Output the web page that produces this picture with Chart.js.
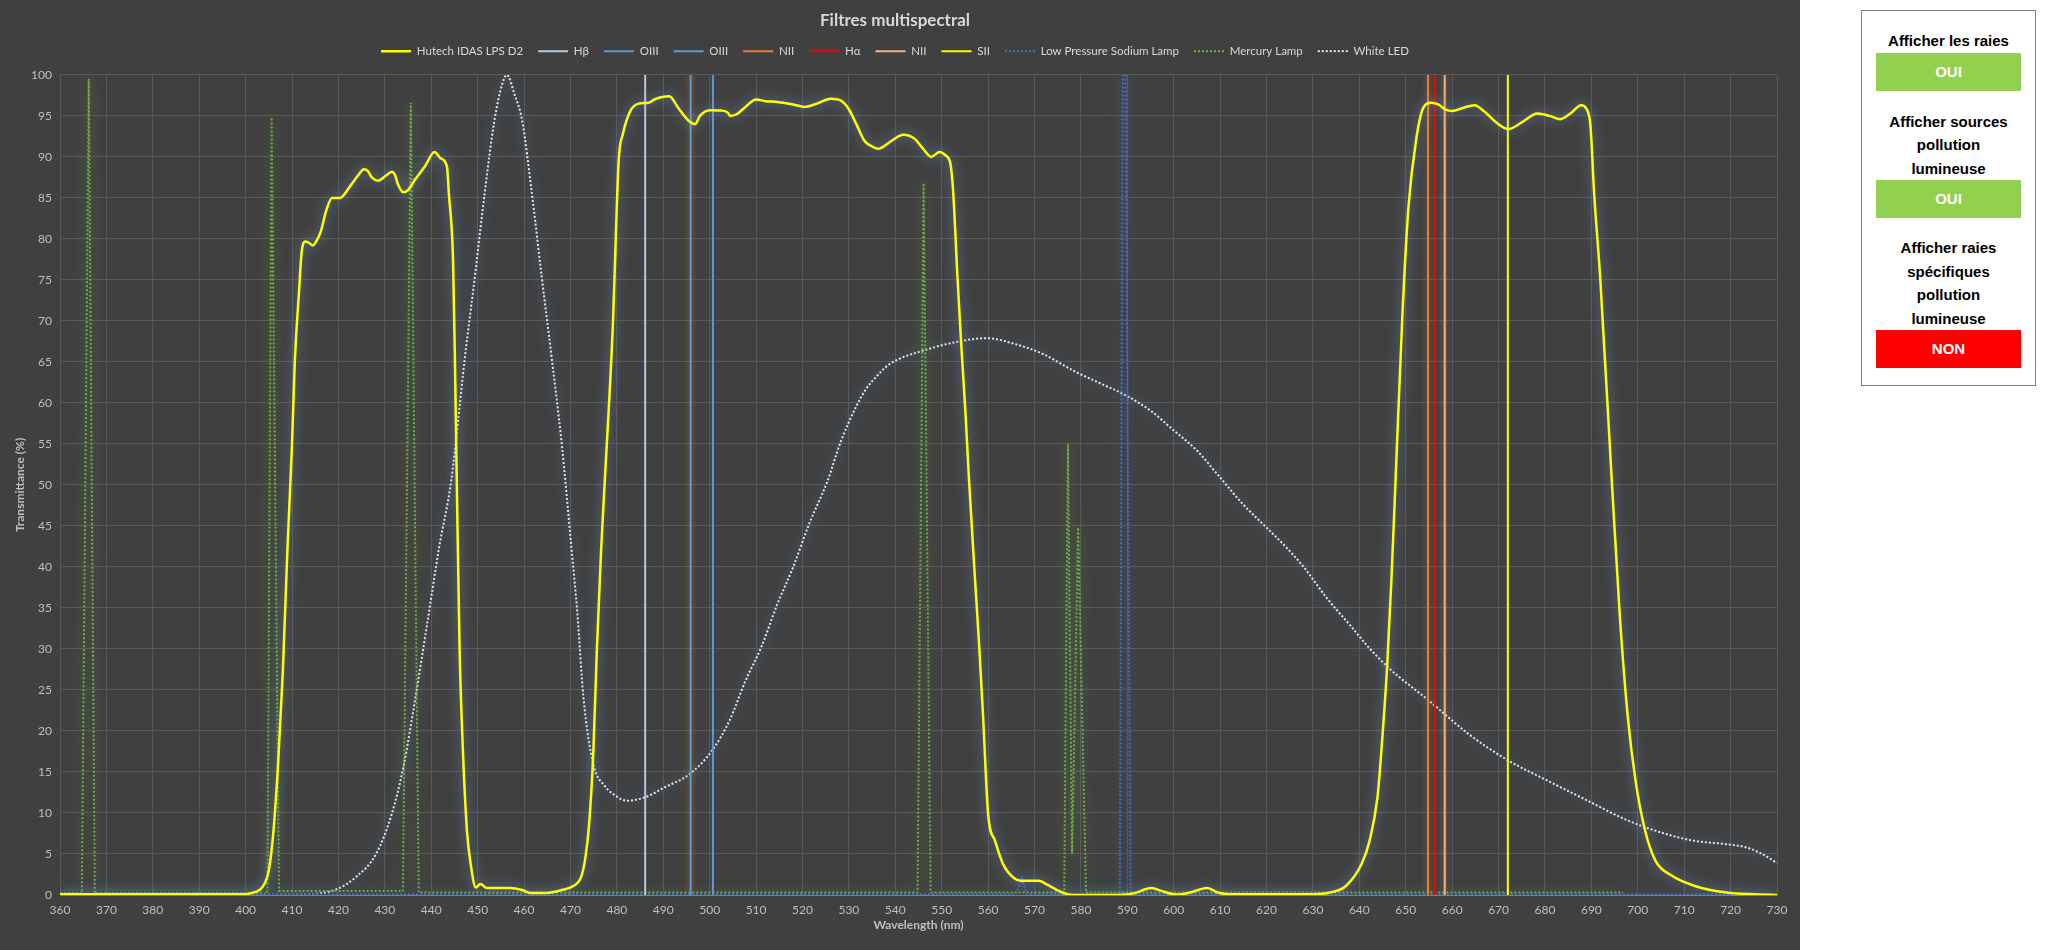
<!DOCTYPE html>
<html lang="fr">
<head>
<meta charset="utf-8">
<title>Filtres multispectral</title>
<script src="https://cdn.jsdelivr.net/npm/chart.js@4.4.1/dist/chart.umd.min.js"></script>
<style>
  html, body { margin: 0; padding: 0; background: #ffffff; }
  #zone { position: absolute; left: 0; top: 0; width: 1800px; height: 950px; background: #404040; }
  #panneau {
    position: absolute; left: 1861px; top: 10px; width: 175px; height: 376px;
    border: 1px solid #7f7f7f; box-sizing: border-box;
    font-family: "Liberation Sans", Arial, sans-serif; font-weight: bold; font-size: 15px;
    color: #000; text-align: center;
  }
  .lib { line-height: 23.5px; }
  .btn { margin: 0 auto; width: 145px; height: 38px; line-height: 38px; color: #fff; font-size: 15px; }
  .oui { background: #92d050; }
  .non { background: #ff0000; }
</style>
</head>
<body>
<div id="zone"><canvas id="graphe" width="1800" height="950"></canvas></div>
<div id="panneau">
  <div class="lib" style="margin-top:18px">Afficher les raies</div>
  <div class="btn oui">OUI</div>
  <div class="lib" style="margin-top:19px">Afficher sources<br>pollution<br>lumineuse</div>
  <div class="btn oui">OUI</div>
  <div class="lib" style="margin-top:18px">Afficher raies<br>spécifiques<br>pollution<br>lumineuse</div>
  <div class="btn non">NON</div>
</div>
<script>
// Hutech IDAS LPS D2
const filtreNm = [360, 380, 400, 401, 403, 404, 405, 406, 407, 408, 409, 410, 410.6, 411.5, 412.1, 412.9, 413.7, 414.5, 415.3, 416.2,
  417.4, 418.6, 420.3, 422.6, 424.3, 425.5, 426.3, 427.2, 428.5, 430.2, 431.5, 432.2, 432.8, 434, 434.9, 436.6, 438.7, 440.7, 442.1, 443.4,
  443.8, 444.7, 445.1, 445.5, 446.1, 446.8, 447.7, 448.5, 449.6, 450.6, 451.9, 457, 459.6, 461.3, 464.7, 468.1, 470.6, 472.3, 473.2, 474,
  474.9, 475.7, 476.6, 477.4, 479.1, 480.4, 481.3, 483, 484.7, 486.8, 488.1, 489.8, 491.3, 493.2, 495.3, 496.9, 497.9, 500.1, 502.6, 503.9,
  504.4, 505.8, 507.7, 510, 512, 514.6, 518, 520.4, 523.1, 526.1, 528.2, 529.9, 531.6, 533.3, 534.6, 536.3, 539.3, 541.7, 544.2, 545.7,
  547.8, 549.5, 550.8, 551.9, 552.5, 553.4, 554.2, 555.1, 555.9, 557.2, 558.1, 558.9, 560, 561.5, 563.2, 565.7, 567, 570.9, 572.6, 576,
  578.1, 586.2, 591.3, 595.2, 597.3, 600.7, 603.5, 607.2, 609.5, 612, 630, 633.7, 637.1, 640.5, 642.2, 643.9, 644.8, 646, 646.9, 647.8,
  649.3, 650.6, 652.3, 653.8, 655.5, 657, 658.5, 660, 662.5, 664.8, 667, 669.5, 672.1, 675, 678.4, 681, 683.3, 685.5, 687.8, 689,
  689.8, 690.6, 691.9, 694.4, 696.1, 697.8, 699.5, 701.6, 703.8, 707.2, 712.3, 719.1, 730];
const filtreT = [0.1, 0.1, 0.1, 0.2, 0.6, 1.3, 3, 7.8, 16, 27, 42, 55, 65, 73.5, 78.5, 79.7, 79.5, 79.2, 79.8, 80.9,
  83.5, 85, 85, 86.5, 87.8, 88.5, 88.3, 87.5, 87.1, 87.7, 88.2, 87.8, 86.7, 85.7, 85.9, 87.3, 88.9, 90.6, 89.8, 88.8,
  85.5, 77.4, 65.3, 50.5, 30.2, 18, 7.8, 3.8, 0.9, 1.35, 0.85, 0.85, 0.6, 0.25, 0.25, 0.6, 1.1, 2.2, 4.5, 8.5,
  17, 30, 42, 50.5, 69, 89.6, 92.8, 95.7, 96.5, 96.6, 97, 97.3, 97.4, 96, 94.5, 94, 95, 95.7, 95.65, 95.4,
  95, 95.2, 96.1, 97, 96.8, 96.7, 96.4, 96.1, 96.5, 97.1, 96.9, 95.9, 94, 92, 91.4, 91, 92, 92.7, 92.2, 91.2,
  90, 90.6, 90.2, 89.1, 85.5, 75.3, 67.2, 59, 50.5, 38.3, 30.2, 22, 9.9, 6.6, 3.8, 2, 1.75, 1.75, 1.3, 0.3,
  0, 0, 0.2, 0.85, 0.5, 0.05, 0.3, 0.85, 0.3, 0.1, 0.1, 0.3, 1.1, 3.8, 6.6, 11.9, 18, 28, 38.3, 50.5,
  71, 84, 92.3, 96, 96.6, 96.4, 95.8, 95.6, 96, 96.3, 95.5, 94.2, 93.4, 94.2, 95.3, 95, 94.6, 95.3, 96.3, 95.8,
  93.8, 85.5, 75.3, 50.5, 34.3, 22, 14, 7.8, 4.2, 2.4, 1.1, 0.3, 0];

// White LED
const ledNm = [360, 400, 413.6, 419.6, 423.8, 428.1, 431.5, 434, 436.6, 439.1, 441.7, 444.3, 447.2, 449.4, 451.5, 453.6, 455.3, 456.3,
  457.9, 459.6, 461.7, 463.8, 466, 468.1, 470.2, 471.5, 472.8, 474.9, 477.4, 480, 482.1, 486, 490.2, 495.8, 500.5, 504.3, 507.7,
  511.1, 514.6, 518, 521.4, 525.4, 528.2, 531.6, 533.7, 535.9, 538, 540.2, 546.1, 552.9, 559.7, 565.7, 571.7, 578.5, 584.1, 589.1,
  594.9, 600.1, 605, 610, 615, 620, 624.4, 628, 633, 638, 642, 646.5, 655, 663.6, 672.1, 680.7, 689.2, 697.8, 706.3, 712.3, 719.1, 723.4,
  726.8, 730];
const ledT = [0, 0, 0.1, 0.7, 2.2, 5, 9.9, 15.6, 24.1, 33, 42.4, 50.5, 65.3, 75.4, 85.5, 94.4, 98.9, 100,
  97.7, 94.4, 85.5, 75.4, 65.3, 55.1, 42.4, 34.3, 24.1, 16, 13.3, 12, 11.5, 11.9, 13.1, 14.8, 17.6, 21.3, 26.1,
  30.2, 35.5, 40, 45.2, 50.5, 55.2, 59.6, 61.7, 63.2, 64.4, 65.2, 66.4, 67.4, 67.9, 67.2, 66, 63.9, 62.4, 61.1,
  59.1, 56.6, 54.2, 50.9, 47.6, 44.8, 42.3, 40, 36.2, 32.9, 30.2, 27.6, 23.7, 19.6, 16.4, 13.9, 11.5, 9.1, 7.4, 6.6, 6.2, 5.8,
  5, 3.9];

// Mercury Lamp
const mercureNm = [360, 364.7, 366.2, 367.5, 404.7, 405.6, 407.2, 433.9, 435.6, 437.3, 544.8, 546.1, 547.6, 576.4, 577.2, 578.1, 579.4, 581.1, 696.8];
const mercureT = [0.2, 0.2, 99.5, 0.2, 0.2, 94.8, 0.5, 0.5, 96.6, 0.3, 0.3, 86.8, 0.3, 0.3, 55, 5, 44.8, 0.3, 0.3];

// Low Pressure Sodium Lamp
const sodiumNm = [360, 566, 567.3, 568.3, 588.4, 589.0, 589.6, 590.7, 730];
const sodiumT = [0.1, 0.1, 2, 0.1, 0.1, 100, 100, 0.1, 0.1];

// raies d'émission
const raieNoms = ['Hβ', 'OIII', 'OIII', 'NII', 'Hα', 'NII', 'SII'];
const raieNm = [486.1, 495.9, 500.7, 654.8, 656.3, 658.4, 672];
const raieCouleurs = ['#b4c7e7', '#5b9bd5', '#5b9bd5', '#ed7d31', '#ff0000', '#f4b183', '#ffff00'];
const raieHalos = [null, 'rgba(197,110,30,0.9)', null, 'rgba(237,125,49,0.5)', null, 'rgba(244,177,131,0.5)', null];

const xMin = 360, xMax = 730, xPas = 10;
const yMin = 0, yMax = 100, yPas = 5;

function points(xs, ys) {
  return xs.map((x, i) => ({ x: x, y: ys[i] }));
}

const jeux = [];
jeux.push({
  label: 'Hutech IDAS LPS D2', data: points(filtreNm, filtreT),
  borderColor: '#ffff00', borderWidth: 2.5, cubicInterpolationMode: 'monotone',
  glow: 'rgba(120,165,225,0.85)', blur: 12
});
raieNoms.forEach((nom, i) => {
  jeux.push({
    label: nom, data: [{ x: raieNm[i], y: yMin }, { x: raieNm[i], y: yMax }],
    borderColor: raieCouleurs[i], borderWidth: 2, glow: raieHalos[i], blur: 6
  });
});
jeux.push({
  label: 'Low Pressure Sodium Lamp', data: points(sodiumNm, sodiumT),
  borderColor: '#4472c4', borderWidth: 2, borderDash: [2, 2], glow: 'rgba(68,114,196,0.7)', blur: 12
});
jeux.push({
  label: 'Mercury Lamp', data: points(mercureNm, mercureT),
  borderColor: '#70ad47', borderWidth: 2, borderDash: [2, 2], glow: 'rgba(112,173,71,0.7)', blur: 14
});
jeux.push({
  label: 'White LED', data: points(ledNm, ledT),
  borderColor: '#e7e6e6', borderWidth: 2, borderDash: [2, 2], cubicInterpolationMode: 'monotone',
  glow: 'rgba(91,155,213,0.9)', blur: 12
});

// effet de halo comme dans Excel
const halo = {
  id: 'halo',
  beforeUpdate(chart) {
    // un peu d'espace sous la légende
    const leg = chart.legend;
    if (leg && !leg._agrandie) {
      const fitOrig = leg.fit;
      leg.fit = function () { fitOrig.call(this); this.height += 8; };
      leg._agrandie = true;
    }
  },
  beforeDatasetDraw(chart, args) {
    const ds = chart.data.datasets[args.index];
    chart.ctx.save();
    if (ds.glow) {
      chart.ctx.shadowColor = ds.glow;
      chart.ctx.shadowBlur = ds.blur || 10;
    }
  },
  afterDatasetDraw(chart) {
    chart.ctx.restore();
  }
};

Chart.defaults.font.family = 'Lato, "Open Sans", sans-serif';

const ctx = document.getElementById('graphe').getContext('2d');
new Chart(ctx, {
  type: 'line',
  data: { datasets: jeux },
  plugins: [halo],
  options: {
    responsive: false,
    animation: false,
    parsing: false,
    normalized: true,
    elements: { point: { radius: 0 }, line: { tension: 0, fill: false } },
    layout: { padding: { left: 13, right: 23, top: 0, bottom: 14 } },
    plugins: {
      title: {
        display: true, text: 'Filtres multispectral', color: '#d9d9d9',
        font: { size: 17, weight: 'bold' }, padding: { top: 10, bottom: 0 }
      },
      legend: {
        position: 'top',
        labels: {
          color: '#d9d9d9', font: { size: 11.5 }, usePointStyle: true, pointStyle: 'line',
          pointStyleWidth: 30, boxHeight: 12, padding: 15,
          generateLabels(chart) {
            return chart.data.datasets.map((ds, i) => ({
              text: ds.label, fillStyle: ds.borderColor, strokeStyle: ds.borderColor,
              lineWidth: ds.borderWidth, lineDash: ds.borderDash || [], pointStyle: 'line',
              fontColor: '#d9d9d9', hidden: false, datasetIndex: i
            }));
          }
        }
      },
      tooltip: { enabled: false }
    },
    scales: {
      x: {
        type: 'linear', min: xMin, max: xMax,
        ticks: { stepSize: xPas, color: '#bfbfbf', font: { size: 12 }, padding: 8, maxRotation: 0 },
        grid: { color: '#595959', drawTicks: false },
        border: { color: '#7f7f7f' },
        title: { display: true, text: 'Wavelength (nm)', color: '#bfbfbf', font: { size: 12, weight: 'bold' }, padding: { top: 0, bottom: 4 } },
        afterFit(scale) { scale.height = 41; }
      },
      y: {
        min: yMin, max: yMax,
        ticks: { stepSize: yPas, color: '#bfbfbf', font: { size: 12 }, padding: 8 },
        grid: { color: '#595959', drawTicks: false },
        border: { color: '#595959' },
        title: { display: true, text: 'Transmittance (%)', color: '#bfbfbf', font: { size: 12, weight: 'bold' }, padding: { top: 0, bottom: 4 } },
        afterFit(scale) { scale.width = 47; }
      }
    }
  }
});
</script>
</body>
</html>
